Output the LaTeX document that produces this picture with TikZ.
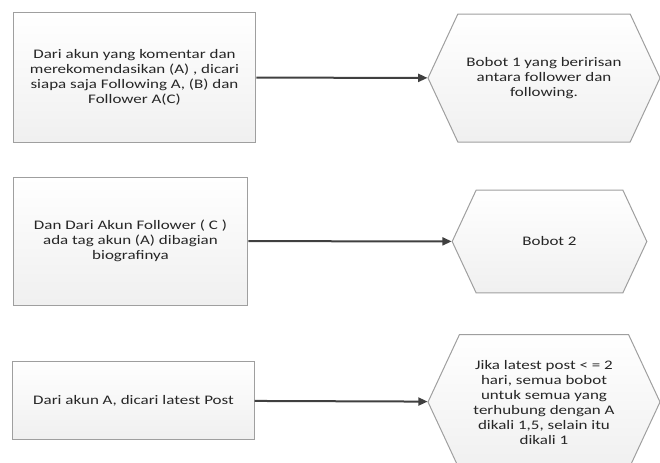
\documentclass[tikz,border=0pt]{standalone}
\usepackage{fontspec}
\setmainfont[FakeStretch=1.3]{Carlito}
\usetikzlibrary{arrows.meta}
\usetikzlibrary{shapes.symbols}

\tikzset{
  stepbox/.style={rectangle,draw=gray!75,line width=0.75pt,inner sep=0pt,
    top color=white,bottom color=gray!12,align=center,
    font=\fontsize{9.8}{11.25}\selectfont,text=black!85},
  weightbox/.style={signal,signal from=nowhere,signal to={east and west},
    signal pointer angle=130,
    draw=gray!75,line width=0.75pt,inner sep=0pt,
    top color=white,bottom color=gray!12,align=center,
    font=\fontsize{9.8}{11.25}\selectfont,text=black!85},
  flow/.style={draw=black!75,line width=1.5pt,-{Triangle[length=7pt,width=6pt]}}
}

\begin{document}
\begin{tikzpicture}[x=0.75pt,y=-0.75pt]
  \useasboundingbox (0,0) rectangle (660,462);
  \clip (0,0) rectangle (660,462);

  \node[stepbox,minimum width=182pt,minimum height=97pt] (b1) at (134.5,77.5)
    {Dari akun yang komentar dan\\merekomendasikan (A) , dicari\\siapa saja Following A, (B) dan\\Follower A(C)};
  \node[stepbox,minimum width=176pt,minimum height=96pt] (b2) at (130.5,241)
    {Dan Dari Akun Follower ( C )\\ada tag akun (A) dibagian\\biografinya};
  \node[stepbox,minimum width=181pt,minimum height=58pt] (b3) at (133.5,400.5)
    {Dari akun A, dicari latest Post};

  \node[weightbox,minimum width=174pt,minimum height=96pt] (h1) at (544,78)
    {Bobot 1 yang beririsan\\antara follower dan\\following.};
  \node[weightbox,minimum width=146pt,minimum height=77pt] (h2) at (549.5,241.5)
    {Bobot 2};
  \node[weightbox,minimum width=174pt,minimum height=101pt] (h3) at (544,402)
    {Jika latest post < = 2\\hari, semua bobot\\untuk semua yang\\terhubung dengan A\\dikali 1,5, selain itu\\dikali 1};

  \draw[flow] (b1) -- (h1);
  \draw[flow] (b2) -- (h2);
  \draw[flow] (b3) -- (h3);
\end{tikzpicture}
\end{document}
